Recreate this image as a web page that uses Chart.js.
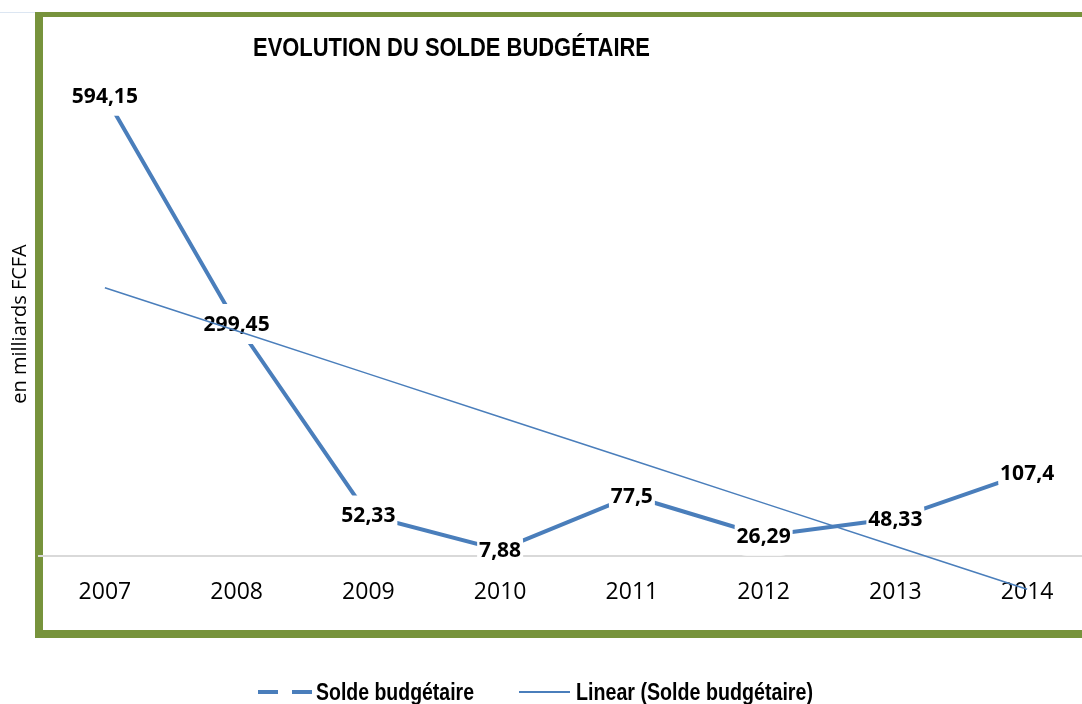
<!DOCTYPE html>
<html>
<head>
<meta charset="utf-8">
<script src="https://cdn.jsdelivr.net/npm/chart.js@4.4.1/dist/chart.umd.min.js"></script>
<style>
  html, body { margin: 0; padding: 0; background: #fff; overflow: hidden; }
  #wrap { position: absolute; left: 0; top: 0; width: 1100px; height: 704px; }
</style>
</head>
<body>
<div id="wrap"><canvas id="c" width="1100" height="704"></canvas></div>
<script>
// ---- data ----
const categories = ['2007', '2008', '2009', '2010', '2011', '2012', '2013', '2014'];
const soldeValues = [594.15, 299.45, 52.33, 7.88, 77.5, 26.29, 48.33, 107.4];
const seriesName = 'Solde budgétaire';
const trendName = 'Linear (Solde budgétaire)';
const chartTitle = 'EVOLUTION DU SOLDE BUDGÉTAIRE';
const yAxisTitle = 'en milliards FCFA';

// linear trend (least squares) computed from the series
function linearTrend(vals) {
  const n = vals.length;
  const xs = vals.map((_, i) => i + 1);
  const mx = xs.reduce((a, b) => a + b, 0) / n;
  const my = vals.reduce((a, b) => a + b, 0) / n;
  let sxy = 0, sxx = 0;
  for (let i = 0; i < n; i++) { sxy += (xs[i] - mx) * (vals[i] - my); sxx += (xs[i] - mx) ** 2; }
  const slope = sxy / sxx;
  return xs.map(x => my + slope * (x - mx));
}
const trendValues = linearTrend(soldeValues);

const BLUE = '#4A7EBB';
const GREEN = '#77933C';

function fmt(v) { return String(v).replace('.', ','); }

const framePlugin = {
  id: 'frame',
  beforeDraw(chart) {
    const ctx = chart.ctx;
    ctx.save();
    ctx.fillStyle = '#fff';
    ctx.fillRect(0, 0, chart.width, chart.height);
    ctx.fillStyle = '#DCE6F2';
    ctx.fillRect(0, 12, 35, 1);
    ctx.fillStyle = GREEN;
    ctx.fillRect(35, 12, chart.width - 35, 5);
    ctx.fillRect(35, 12, 8, 626);
    ctx.fillRect(35, 630, chart.width - 35, 8);
    ctx.restore();
  },
  afterDraw(chart) {
    const ctx = chart.ctx;
    ctx.save();
    // title
    ctx.fillStyle = '#000';
    ctx.textBaseline = 'alphabetic';
    ctx.textAlign = 'left';
    ctx.font = 'bold 26px "Liberation Sans", Arial, sans-serif';
    ctx.fillText(chartTitle, 253, 56, 397);
    // legend
    const ds = chart.data.datasets;
    ctx.strokeStyle = BLUE;
    ctx.lineCap = 'butt';
    ctx.lineWidth = 4;
    ctx.setLineDash([20, 14]);
    ctx.beginPath(); ctx.moveTo(258, 692); ctx.lineTo(312, 692); ctx.stroke();
    ctx.setLineDash([]);
    ctx.lineWidth = 2;
    ctx.beginPath(); ctx.moveTo(519, 692); ctx.lineTo(570, 692); ctx.stroke();
    ctx.font = 'bold 23px "Liberation Sans", Arial, sans-serif';
    ctx.fillText(ds[0].label, 316, 700, 158);
    ctx.fillText(ds[1].label, 576, 700, 237);
    ctx.restore();
  }
};

function roundRect(ctx, x, y, w, h, r) {
  ctx.beginPath();
  ctx.moveTo(x + r, y);
  ctx.lineTo(x + w - r, y);
  ctx.quadraticCurveTo(x + w, y, x + w, y + r);
  ctx.lineTo(x + w, y + h - r);
  ctx.quadraticCurveTo(x + w, y + h, x + w - r, y + h);
  ctx.lineTo(x + r, y + h);
  ctx.quadraticCurveTo(x, y + h, x, y + h - r);
  ctx.lineTo(x, y + r);
  ctx.quadraticCurveTo(x, y, x + r, y);
  ctx.closePath();
}

const labelPlugin = {
  id: 'valueLabels',
  afterDatasetDraw(chart, args) {
    if (args.index !== 0) return;
    const ctx = chart.ctx;
    const meta = args.meta;
    ctx.save();
    ctx.font = 'bold 21px "Open Sans", sans-serif';
    ctx.textAlign = 'center';
    ctx.textBaseline = 'middle';
    meta.data.forEach((pt, i) => {
      const t = fmt(chart.data.datasets[0].data[i]);
      const w = ctx.measureText(t).width + 4;
      ctx.fillStyle = '#fff';
      roundRect(ctx, pt.x - w / 2, pt.y - 20, w, 40, 12);
      ctx.fill();
      ctx.fillStyle = '#000';
      ctx.fillText(t, pt.x, pt.y + 1);
    });
    ctx.restore();
  }
};

new Chart(document.getElementById('c'), {
  type: 'line',
  data: {
    labels: categories,
    datasets: [
      { label: seriesName, data: soldeValues, borderColor: BLUE, backgroundColor: BLUE,
        borderWidth: 4, pointRadius: 0, tension: 0, order: 2, clip: false, borderCapStyle: 'butt' },
      { label: trendName, data: trendValues, borderColor: BLUE, backgroundColor: BLUE,
        borderWidth: 1.5, pointRadius: 0, tension: 0, order: 1, clip: false }
    ]
  },
  options: {
    responsive: false,
    animation: false,
    devicePixelRatio: 1,
    layout: { padding: { left: 0, right: 7, top: 92, bottom: 100 } },
    plugins: { legend: { display: false }, tooltip: { enabled: false }, title: { display: false } },
    scales: {
      x: {
        offset: true,
        grid: { display: false, drawTicks: false },
        border: { display: true, color: '#D9D9D9', width: 2 },
        ticks: { font: { family: 'Open Sans', size: 23 }, color: '#000', padding: 23 },
        afterFit(s) { s.height = 48; }
      },
      y: {
        min: 0, max: 599,
        grid: { display: false, drawTicks: false },
        border: { display: false },
        ticks: { display: false },
        title: { display: true, text: yAxisTitle, color: '#000',
                 font: { family: 'Open Sans', size: 20 }, padding: { top: 8, bottom: 0 } },
        afterFit(s) { s.width = 39; }
      }
    }
  },
  plugins: [framePlugin, labelPlugin]
});
</script>
</body>
</html>
